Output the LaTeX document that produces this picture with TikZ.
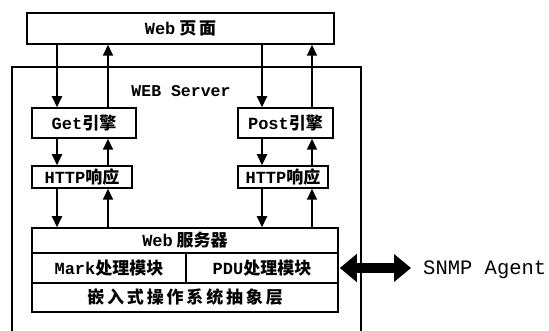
\documentclass[tikz,border=0pt]{standalone}
\usepackage{fontspec}
\setmainfont{Noto Sans CJK SC}
\newfontfamily\monofam{Liberation Mono}
\newcommand\lat[1]{{\monofam #1}}
\usetikzlibrary{arrows.meta}
\begin{document}
\begin{tikzpicture}[x=1pt,y=-1pt,
  box/.style={draw, line width=1.5pt, inner sep=0pt, font=\bfseries\fontsize{17}{17}\selectfont},
  arr/.style={line width=2pt, -{Triangle[length=11pt,width=10pt]}},
  fat/.style={line width=10pt, {Triangle[length=17pt,width=27pt]}-{Triangle[length=17pt,width=27pt]}},
  lbl/.style={inner sep=0pt}]
\useasboundingbox (0,0) rectangle (549,331);
% Web page
\node[box, minimum width=307pt, minimum height=31pt] (web) at (180.5,28.5) {\lat{Web} 页\,面};
% server frame
\draw[line width=1.4pt] (12,331) -- (12,67) -- (361,67) -- (361,331);
\node[lbl, font=\bfseries\fontsize{16.5}{16.5}\selectfont] (srv) at (181,91) {\lat{WEB Server}};
% engines
\node[box, minimum width=104pt, minimum height=30pt] (get) at (84,123) {\lat{Get}引擎};
\node[box, minimum width=95pt, minimum height=30pt] (post) at (285.5,123) {\lat{Post}引擎};
\node[box, minimum width=100pt, minimum height=22pt] (h1) at (82,177) {\lat{HTTP}响应};
\node[box, minimum width=90pt, minimum height=22pt] (h2) at (283,177) {\lat{HTTP}响应};
% stack
\node[box, minimum width=306pt, minimum height=25pt] (ws) at (185,240.5) {\lat{Web} 服务器};
\node[box, minimum width=154pt, minimum height=30pt] (mark) at (109,268) {\lat{Mark}处理模块};
\node[box, minimum width=152pt, minimum height=30pt] (pdu) at (262,268) {\lat{PDU}处理模块};
\node[box, minimum width=306pt, minimum height=29pt] (os) at (185,297.5) {嵌\,入\,式\,操\,作\,系\,统\,抽\,象\,层};
% SNMP
\node[lbl, font=\fontsize{20.5}{20.5}\selectfont, anchor=west] (snmp) at (423,270) {\lat{SNMP Agent}};
\draw[fat, shorten <=1pt, shorten >=12pt] (pdu.east) -- (pdu.east -| snmp.west);
% arrow columns
\coordinate (xa) at (57,0);
\coordinate (xb) at (108,0);
\coordinate (xc) at (262,0);
\coordinate (xd) at (312,0);
\draw[arr] (web.south -| xa) -- (get.north -| xa);
\draw[arr] (get.north -| xb) -- (web.south -| xb);
\draw[arr] (web.south -| xc) -- (post.north -| xc);
\draw[arr] (post.north -| xd) -- (web.south -| xd);
\draw[arr] (get.south -| xa) -- (h1.north -| xa);
\draw[arr] (h1.north -| xb) -- (get.south -| xb);
\draw[arr] (post.south -| xc) -- (h2.north -| xc);
\draw[arr] (h2.north -| xd) -- (post.south -| xd);
\draw[arr] (h1.south -| xa) -- (ws.north -| xa);
\draw[arr] (ws.north -| xb) -- (h1.south -| xb);
\draw[arr] (h2.south -| xc) -- (ws.north -| xc);
\draw[arr] (ws.north -| xd) -- (h2.south -| xd);
\end{tikzpicture}
\end{document}
